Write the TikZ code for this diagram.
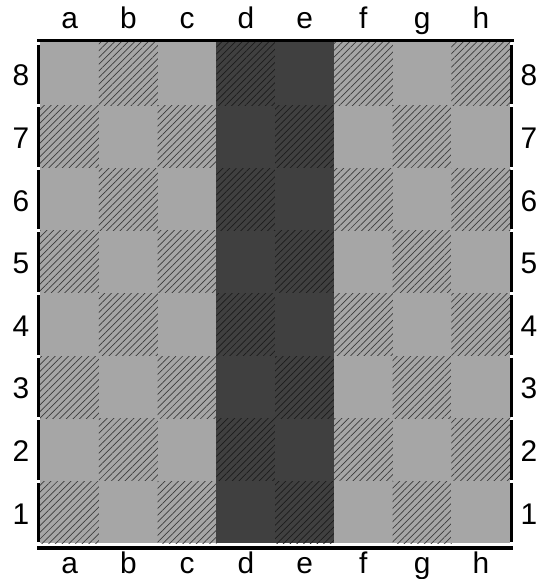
\documentclass[tikz,border=0pt]{standalone}
\usepackage{fontspec}
\setmainfont{Liberation Sans}
\usetikzlibrary{patterns.meta}
\definecolor{lightsq}{HTML}{A6A6A6}
\definecolor{darkcol}{HTML}{404040}
\definecolor{hatchlight}{HTML}{3C3C3C}
\definecolor{hatchdark}{HTML}{1C1C1C}
\tikzset{
  sqbox/.style={inner sep=0pt, outer sep=0pt, anchor=north west, minimum width=1.185cm, minimum height=1.2625cm},
  plainsq/.style={sqbox, fill=lightsq},
  colsq/.style={sqbox, fill=darkcol},
  hatched/.style={postaction={pattern={Lines[angle=45, distance=2.7pt, line width=0.4pt]}, pattern color=#1}},
  rim/.style={line width=0.06cm},
  coordlabel/.style={inner sep=0pt, font=\fontsize{17pt}{20pt}\selectfont}
}
\begin{document}
\begin{tikzpicture}[x=0.02cm, y=-0.02cm]
  \useasboundingbox (0,0) rectangle (543,579);
  % squares, file by file
  \foreach \f [count=\i from 0] in {a,b,c,d,e,f,g,h} {
    \foreach \r in {1,...,8} {
      \pgfmathtruncatemacro\odd{mod(\i+\r,2)}
      \ifnum\i=3 \def\sq{colsq}\def\hc{hatchdark}\else
        \ifnum\i=4 \def\sq{colsq}\def\hc{hatchdark}\else
          \def\sq{plainsq}\def\hc{hatchlight}\fi\fi
      \ifnum\odd=1
        \node[\sq, hatched=\hc] (\f\r) at ({40+\i*58.75},{42+(8-\r)*62.625}) {};
      \else
        \node[\sq] (\f\r) at ({40+\i*58.75},{42+(8-\r)*62.625}) {};
      \fi
    }
  }
  % frame
  \draw[rim] ([shift={(-0.06cm,0.03cm)}]a8.north west) -- ([shift={(0.08cm,0.03cm)}]h8.north east);
  \draw[rim, line width=0.08cm] ([shift={(-0.06cm,-0.1cm)}]a1.south west) -- ([shift={(0.06cm,-0.1cm)}]h1.south east);
  \foreach \r in {1,...,8} {
    \draw[rim] ([shift={(-0.03cm,-0.05cm)}]a\r.north west) -- ([shift={(-0.03cm,0.02cm)}]a\r.south west);
    \draw[rim] ([shift={(0.02cm,-0.05cm)}]h\r.north east) -- ([shift={(0.02cm,0.02cm)}]h\r.south east);
  }
  % coordinates round the board
  \foreach \f in {a,b,c,d,e,f,g,h} {
    \node[coordlabel, anchor=base] (top\f) at ([yshift=0.28cm]\f8.north) {\f};
    \node[coordlabel, anchor=base] (bot\f) at ([yshift=-0.6cm]\f1.south) {\f};
  }
  \foreach \r in {1,...,8} {
    \node[coordlabel] (left\r) at ([shift={(-0.38cm,-0.04cm)}]a\r.west) {\r};
    \node[coordlabel] (right\r) at ([shift={(0.37cm,-0.04cm)}]h\r.east) {\r};
  }
\end{tikzpicture}
\end{document}
